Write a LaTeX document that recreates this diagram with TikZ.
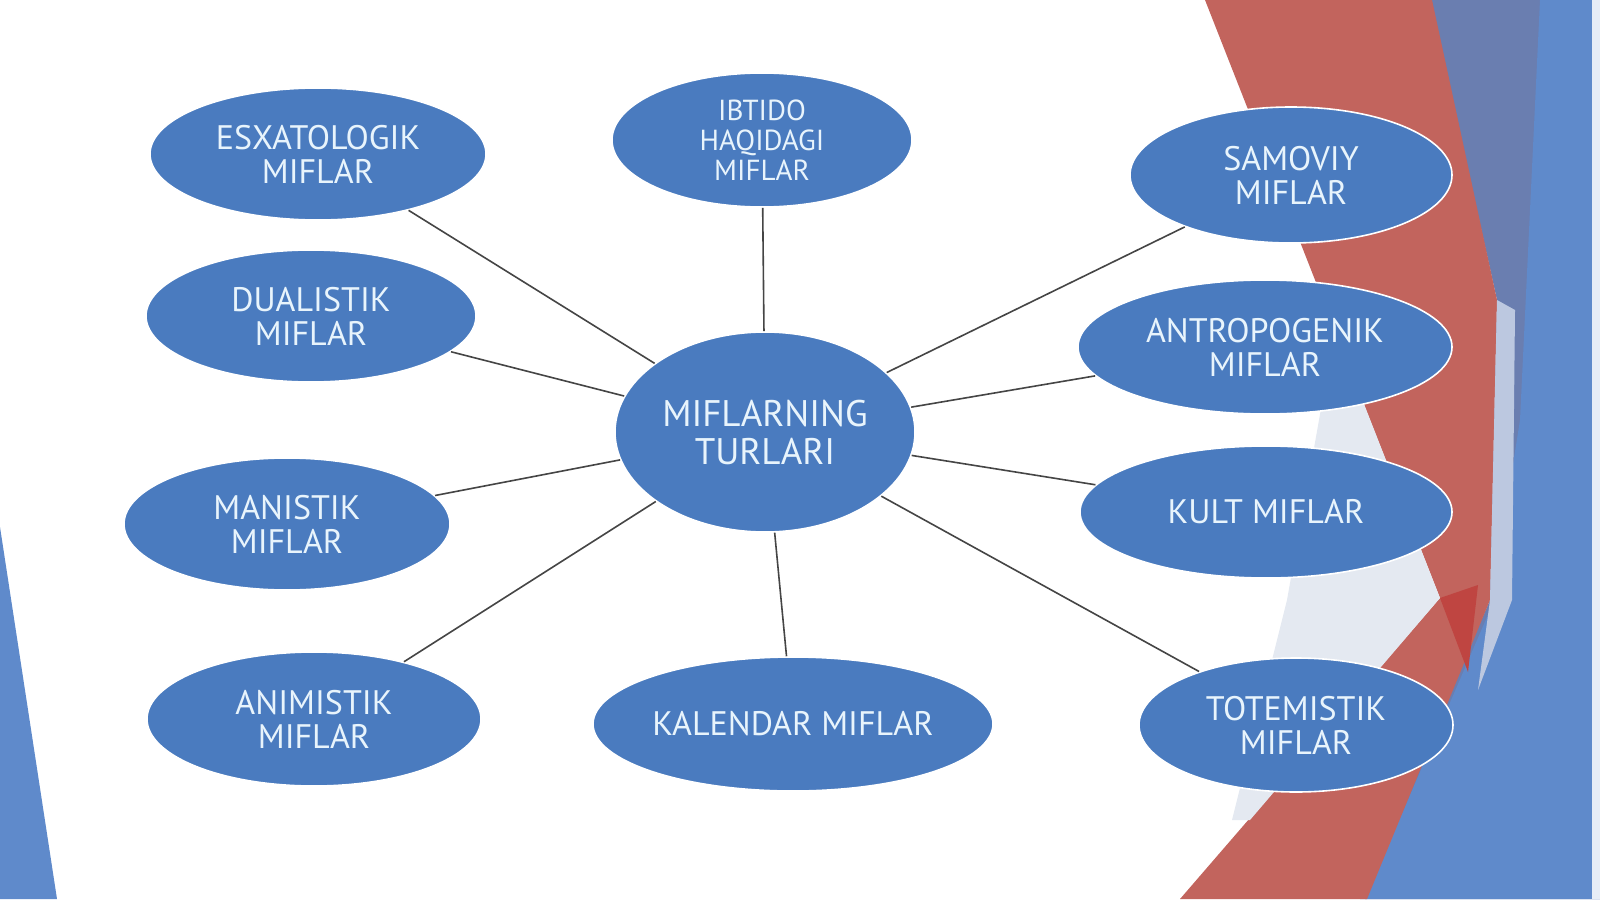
\documentclass[tikz,border=0pt]{standalone}
\usepackage{fontspec}
\setmainfont{PT Sans}
\usetikzlibrary{shapes.geometric}
\definecolor{nodeblue}{HTML}{4A7BBF}
\definecolor{txtcol}{HTML}{E8F4FC}
\definecolor{conncol}{HTML}{454545}
\definecolor{bgred}{HTML}{C2645D}
\definecolor{bgredd}{HTML}{BF4541}
\definecolor{bggray}{HTML}{6A7EB0}
\definecolor{bgblue}{HTML}{5F8ACB}
\definecolor{bgpale}{HTML}{E4E9F1}
\definecolor{bglight}{HTML}{BCC8E0}
\tikzset{
  myth/.style={ellipse, fill=nodeblue, draw=white, line width=0.8pt, inner sep=0pt,
    text=txtcol, align=center, font=\fontsize{17}{17}\selectfont},
  conn/.style={draw=conncol, line width=0.8pt}
}
\begin{document}
\begin{tikzpicture}[x=0.5pt,y=-0.5pt]
\useasboundingbox (0,0) rectangle (1600,899);
\fill[white] (0,0) rectangle (1600,899);
% background decoration
\fill[bggray] (1430,0) -- (1600,0) -- (1600,899) -- (1360,899) -- (1490,600) -- (1497,300) -- cycle;
\fill[bgblue] (1540,0) -- (1600,0) -- (1600,899) -- (1365,899) -- (1490,610) -- (1520,420) -- cycle;
\fill[bgred] (1205,0) -- (1432,0) -- (1497,300) -- (1490,600) -- (1367,899) -- (1180,899) -- (1440,598) -- cycle;
\fill[bgpale] (1335,330) -- (1440,598) -- (1250,820) -- (1232,820) -- (1287,600) -- cycle;
\fill[bgredd] (1440,598) -- (1478,585) -- (1468,672) -- cycle;
\fill[bglight] (1497,300) -- (1515,310) -- (1512,600) -- (1478,690) -- (1490,600) -- cycle;
\fill[white!85!bgblue] (1592,0) rectangle (1600,899);
\fill[bgblue] (0,527) -- (57,899) -- (0,899) -- cycle;
% nodes
\node[myth, minimum width=150pt, minimum height=100pt, font=\fontsize{18.5}{19}\selectfont] (c) at (765,432) {MIFLARNING\\TURLARI};
\node[myth, minimum width=168pt, minimum height=66pt] (esx) at (318,154) {ESXATOLOGIK\\MIFLAR};
\node[myth, minimum width=150pt, minimum height=67pt, font=\fontsize{14.5}{15}\selectfont] (ibt) at (762,140) {IBTIDO\\HAQIDAGI\\MIFLAR};
\node[myth, minimum width=161pt, minimum height=68pt] (sam) at (1291,175) {SAMOVIY\\MIFLAR};
\node[myth, minimum width=165pt, minimum height=66pt] (dua) at (311,316) {DUALISTIK\\MIFLAR};
\node[myth, minimum width=187pt, minimum height=67pt] (ant) at (1265,347) {ANTROPOGENIK\\MIFLAR};
\node[myth, minimum width=163pt, minimum height=66pt] (man) at (287,524) {MANISTIK\\MIFLAR};
\node[myth, minimum width=186pt, minimum height=66pt] (kul) at (1266,512) {KULT MIFLAR};
\node[myth, minimum width=167pt, minimum height=67pt] (ani) at (314,719) {ANIMISTIK\\MIFLAR};
\node[myth, minimum width=200pt, minimum height=67pt] (kal) at (793,724) {KALENDAR MIFLAR};
\node[myth, minimum width=157pt, minimum height=67pt] (tot) at (1296,725) {TOTEMISTIK\\MIFLAR};
% connectors
\foreach \n in {esx,ibt,sam,dua,ant,man,kul,ani,kal,tot}
  \draw[conn] (c) -- (\n);
\end{tikzpicture}
\end{document}
